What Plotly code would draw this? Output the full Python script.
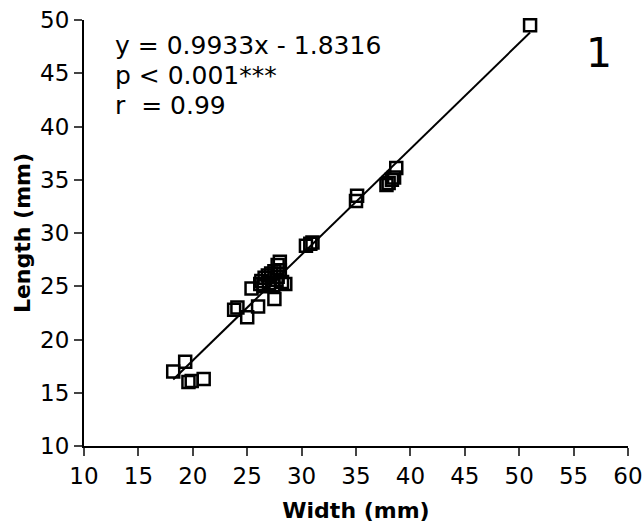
import plotly.graph_objects as go

width_mm = [51.0, 38.7, 37.8, 38.0, 38.3, 38.5, 35.0, 35.1,
            30.4, 30.8, 31.0, 28.0, 27.8,
            26.3, 26.6, 26.9, 27.2, 27.5, 27.8, 28.2, 28.5, 27.0, 26.5, 27.4, 28.0, 26.2, 27.7,
            25.4, 27.5, 26.0, 23.8, 24.1, 25.0,
            19.3, 18.2, 19.6, 19.9, 21.0]
length_mm = [49.5, 36.1, 34.5, 34.7, 35.0, 35.2, 33.0, 33.5,
             28.8, 29.0, 29.1, 27.3, 27.0,
             25.5, 25.8, 26.0, 26.2, 26.4, 25.9, 25.4, 25.2, 25.3, 25.0, 25.1, 26.5, 25.2, 25.6,
             24.8, 23.8, 23.1, 22.8, 23.0, 22.1,
             17.9, 17.0, 16.0, 16.1, 16.3]

slope = 0.9933
intercept = -1.8316
x_ticks = list(range(10, 61, 5))
y_ticks = list(range(10, 51, 5))
stat_lines = ["y = 0.9933x - 1.8316", "p < 0.001***", "r  = 0.99"]
panel_label = "1"

xmin, xmax = min(width_mm), max(width_mm)
line_x = [xmin, xmax]
line_y = [slope * v + intercept for v in line_x]

fig = go.Figure()
fig.add_trace(go.Scatter(x=line_x, y=line_y, mode="lines",
                         line=dict(color="black", width=2), showlegend=False, cliponaxis=False))
fig.add_trace(go.Scatter(x=width_mm, y=length_mm, mode="markers",
                         marker=dict(symbol="square-open", size=12, color="black",
                                     line=dict(width=2.5, color="black")),
                         showlegend=False, cliponaxis=False))

font = "DejaVu Sans, sans-serif"
annots = []
for i, t in enumerate(stat_lines):
    annots.append(dict(x=0.053, y=0.941 - i * 0.0705, xref="paper", yref="paper",
                       xanchor="left", yanchor="middle", showarrow=False, text=t,
                       font=dict(size=25)))
annots.append(dict(x=0.947, y=0.922, xref="paper", yref="paper", xanchor="center",
                   yanchor="middle", showarrow=False, text=panel_label, font=dict(size=41)))

fig.update_layout(
    width=644, height=525,
    margin=dict(l=84, r=16, t=20, b=79),
    paper_bgcolor="white", plot_bgcolor="white",
    font=dict(family=font, size=23, color="black"),
    xaxis=dict(range=[10, 60], tickvals=x_ticks, ticks="outside", ticklen=8, tickwidth=2,
               showline=True, linewidth=2, linecolor="black", showgrid=False, zeroline=False,
               automargin=False,
               title=dict(text="<b>Width (mm)</b>", font=dict(size=22), standoff=15),
               tickfont=dict(size=23), ticklabeloverflow="allow"),
    yaxis=dict(range=[10, 50], tickvals=y_ticks, ticks="outside", ticklen=8, tickwidth=2,
               showline=True, linewidth=2, linecolor="black", showgrid=False, zeroline=False,
               automargin=False,
               title=dict(text="<b>Length (mm)</b>", font=dict(size=22), standoff=3),
               tickfont=dict(size=23), ticklabeloverflow="allow"),
    annotations=annots,
)
fig.write_html("out.html", config={"displayModeBar": False},
               post_script="document.body.style.margin='0px';document.body.style.overflow='hidden';")
